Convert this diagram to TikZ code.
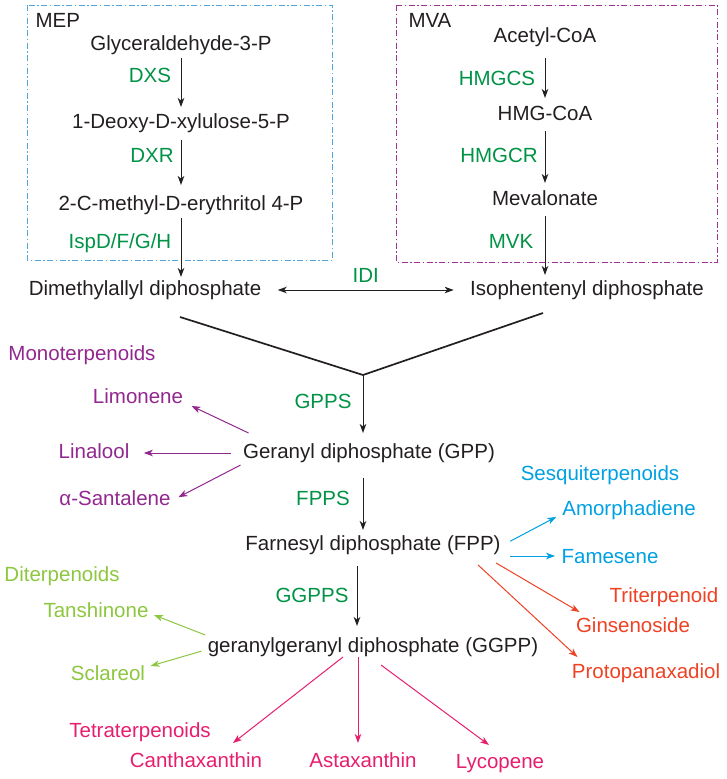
\documentclass[tikz,border=0pt]{standalone}
\usepackage{fontspec}
\setmainfont{Liberation Sans}
\usepackage{xcolor}
\usetikzlibrary{arrows.meta}
\definecolor{enzgreen}{RGB}{0,146,69}
\definecolor{monopurple}{RGB}{146,39,143}
\definecolor{sesqblue}{RGB}{0,160,226}
\definecolor{diteryel}{RGB}{141,198,63}
\definecolor{triterred}{RGB}{239,65,35}
\definecolor{tetrapink}{RGB}{230,30,110}
\definecolor{mepblue}{RGB}{80,165,220}
\definecolor{mvapurple}{RGB}{160,50,150}
\definecolor{inkblack}{RGB}{35,31,32}
\begin{document}
\begin{tikzpicture}[x=1pt,y=-1pt, color=inkblack,
  every node/.style={font=\fontsize{20.5}{24}\selectfont, text height=15pt, text depth=4pt, inner sep=2pt},
  >={Stealth[length=9pt,width=6.5pt,inset=2.5pt]},
  enz/.style={text=enzgreen},
  pathbox/.style={line width=0.9pt, dash pattern=on 6pt off 2.5pt on 1.5pt off 2.5pt},
  every path/.style={line width=1pt}]
\useasboundingbox (0,0) rectangle (726,779);

% MEP pathway
\draw  [pathbox, mepblue] (27,5) rectangle (332,260);
\node [anchor=west] (mep) at (33,22) {MEP};
\node (gly) at (181,45) {Glyceraldehyde-3-P};
\node (dxp) at (181,123) {1-Deoxy-D-xylulose-5-P};
\node (mec) at (181,205) {2-C-methyl-D-erythritol 4-P};
\node [enz] (dxs) at (150,77) {DXS};
\node [enz] (dxr) at (152,157) {DXR};
\node [enz] (isp) at (120,243) {IspD/F/G/H};
\draw [->, shorten <=1pt, shorten >=4pt] (gly) -- (dxp);
\draw [->, shorten <=5pt, shorten >=8pt] (dxp) -- (mec);

% MVA pathway
\draw  [pathbox, mvapurple] (396,5) rectangle (717,262);
\node [anchor=west] (mva) at (406,22) {MVA};
\node (aca) at (545,37) {Acetyl-CoA};
\node (hmg) at (545,115) {HMG-CoA};
\node (mev) at (545,200) {Mevalonate};
\node [enz] (hcs) at (497,80) {HMGCS};
\node [enz] (hcr) at (499,157) {HMGCR};
\node [enz] (mvk) at (511,243) {MVK};
\draw [->, shorten <=9pt, shorten >=5pt] (aca) -- (hmg);
\draw [->, shorten <=4pt, shorten >=5pt] (hmg) -- (mev);

\node (dma) at (145,290) {Dimethylallyl diphosphate};
\node (ipp) at (587,290) {Isophentenyl diphosphate};
\draw [->, shorten <=4pt, shorten >=3pt] (mev) -- (mev |- ipp.north);
\draw [->, shorten <=1pt, shorten >=1pt] (mec) -- (mec |- dma.north);
\draw [<->, shorten <=14pt, shorten >=14pt] (dma) -- node [enz, above=1pt] (idi) {IDI} (ipp);

% condensation
\coordinate (yl) at (180,317);
\coordinate (yr) at (543,313);
\coordinate (yj) at (363,375);
\draw [line width=1.7pt] (yl) -- (yj) -- (yr);

\node (gpp) at (369,453) {Geranyl diphosphate (GPP)};
\node (fpp) at (373,545) {Farnesyl diphosphate (FPP)};
\node (ggpp) at (373,647) {geranylgeranyl diphosphate (GGPP)};
\node [enz] (gpps) at (323,403) {GPPS};
\node [enz] (fpps) at (323,500) {FPPS};
\node [enz] (ggpps) at (312,597) {GGPPS};
\draw [->, shorten >=8pt] (yj) -- (yj |- gpp.north);
\draw [->, shorten <=13pt, shorten >=3pt] (gpp.south -| yj) -- (fpp.north -| yj);
\draw [->, shorten <=9pt, shorten >=9pt] ([xshift=-16pt]fpp.south) -- ([xshift=-16pt]ggpp.north);

% monoterpenoids
\node [text=monopurple] (mono) at (82,355) {Monoterpenoids};
\node [text=monopurple] (lim) at (138,398) {Limonene};
\node [text=monopurple] (lin) at (94,453) {Linalool};
\node [text=monopurple] (san) at (115,500) {α-Santalene};
\draw [monopurple, ->] ([xshift=8pt,yshift=8pt]gpp.north west) -- ([xshift=6pt,yshift=4pt]lim.south east);
\draw [monopurple, ->, shorten <=10pt, shorten >=12pt] (gpp) -- (lin);
\draw [monopurple, ->, shorten >=6pt] (gpp.south west) -- (san.east);

% sesquiterpenoids
\node [text=sesqblue] (sesq) at (600,475) {Sesquiterpenoids};
\node [text=sesqblue] (amo) at (629,510) {Amorphadiene};
\node [text=sesqblue] (fam) at (610,558) {Famesene};
\draw [sesqblue, ->, shorten <=8pt, shorten >=4pt] (fpp.east) -- ([yshift=-5pt]amo.west);
\draw [sesqblue, ->, shorten <=7pt, shorten >=4pt] ([yshift=-11pt]fpp.east) -- ([yshift=2pt]fam.west);

% triterpenoid
\node [text=triterred] (tri) at (664,597) {Triterpenoid};
\node [text=triterred] (gin) at (633,627) {Ginsenoside};
\node [text=triterred] (ppd) at (646,673) {Protopanaxadiol};
\draw [triterred, ->] ([xshift=-7pt,yshift=-6pt]fpp.south east) -- ([xshift=6pt,yshift=3pt]gin.north west);
\draw [triterred, ->] ([xshift=-25pt,yshift=-8pt]fpp.south east) -- ([xshift=8pt,yshift=4pt]ppd.north west);

% diterpenoids
\node [text=diteryel] (dit) at (62,576) {Diterpenoids};
\node [text=diteryel] (tan) at (96,612) {Tanshinone};
\node [text=diteryel] (scl) at (108,675) {Sclareol};
\draw [diteryel, ->] (ggpp.north west) -- ([xshift=3pt,yshift=-3pt]tan.east);
\draw [diteryel, ->, shorten <=4pt] ([yshift=-3pt]ggpp.west) -- ([xshift=3pt,yshift=9pt]scl.east);

% tetraterpenoids
\node [text=tetrapink] (tet) at (140,732) {Tetraterpenoids};
\node [text=tetrapink] (can) at (196,762) {Canthaxanthin};
\node [text=tetrapink] (ast) at (363,762) {Astaxanthin};
\node [text=tetrapink] (lyc) at (500,763) {Lycopene};
\draw [tetrapink, ->] ([xshift=-30pt,yshift=2pt]ggpp.south) -- ([xshift=37pt,yshift=7pt]can.north);
\draw [tetrapink, ->] ([xshift=-15pt,yshift=2pt]ggpp.south) -- ([xshift=-5pt,yshift=7pt]ast.north);
\draw [tetrapink, ->] ([xshift=8pt,yshift=-6pt]ggpp.south) -- ([xshift=-11pt,yshift=6pt]lyc.north);

\end{tikzpicture}
\end{document}
